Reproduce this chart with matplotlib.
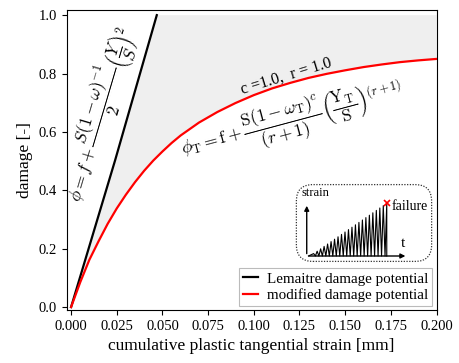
import numpy as np
import matplotlib
matplotlib.use("Agg")
import matplotlib.pyplot as plt
from matplotlib.patches import FancyBboxPatch

# ---- data ----
lem_x = [0.0, 0.0241, 0.0469]
lem_y = [0.0, 0.503, 1.0]

mod_x = [0.000, 0.005, 0.010, 0.015, 0.020, 0.025, 0.030, 0.035, 0.040, 0.045,
         0.050, 0.055, 0.060, 0.070, 0.080, 0.090, 0.100, 0.110, 0.120, 0.130,
         0.140, 0.150, 0.160, 0.170, 0.180, 0.190, 0.200]
mod_y = [0.000, 0.085, 0.162, 0.225, 0.285, 0.338, 0.385, 0.428, 0.467, 0.502,
         0.533, 0.562, 0.588, 0.632, 0.668, 0.699, 0.726, 0.749, 0.768, 0.785,
         0.799, 0.811, 0.822, 0.831, 0.839, 0.845, 0.850]

xticks = [0.000, 0.025, 0.050, 0.075, 0.100, 0.125, 0.150, 0.175, 0.200]
yticks = [0.0, 0.2, 0.4, 0.6, 0.8, 1.0]

# inset schematic: peak strain of each load cycle (relative)
inset_peaks = [0.03, 0.06, 0.09, 0.12, 0.15, 0.18, 0.21, 0.24, 0.27, 0.30,
               0.33, 0.36, 0.39, 0.42, 0.45, 0.48, 0.51, 0.54, 0.57, 0.60,
               0.63, 0.66]

plt.rcParams['font.family'] = ['Liberation Serif', 'DejaVu Serif']
plt.rcParams['mathtext.fontset'] = 'cm'

fig = plt.figure(figsize=(4.6, 3.63), dpi=100)
ax = fig.add_axes([0.145, 0.146, 0.804, 0.826])

# grey region between the two potentials
poly_x = list(lem_x) + [mod_x[-1]] + list(mod_x[::-1])
poly_y = list(lem_y) + [1.0] + list(mod_y[::-1])
ax.fill(poly_x, poly_y, color='#efefef', lw=0, zorder=1)

ax.plot(lem_x, lem_y, color='black', lw=1.6, label='Lemaitre damage potential', zorder=3)
ax.plot(mod_x, mod_y, color='red', lw=1.6, label='modified damage potential', zorder=3)

ax.set_xlim(-0.0024, 0.2)
ax.set_ylim(-0.010, 1.017)
ax.set_xticks(xticks)
ax.set_xticklabels([f'{v:.3f}' for v in xticks])
ax.set_yticks(yticks)
ax.set_yticklabels([f'{v:.1f}' for v in yticks])
ax.tick_params(direction='out', length=3.5, width=0.8, labelsize=10.5)
ax.set_xlabel('cumulative plastic tangential strain [mm]', fontsize=12.5)
ax.set_ylabel('damage [-]', fontsize=12.5)

ax.text(0.0155, 0.66,
        r'$\phi = f + \dfrac{S(1-\omega)^{-1}}{2}\left(\dfrac{Y}{S}\right)^{2}$',
        rotation=73.5, ha='center', va='center', fontsize=12.5,
        rotation_mode='anchor', transform=ax.transData)
ax.text(0.118, 0.79, 'c =1.0,  r = 1.0', rotation=17, ha='center', va='center',
        fontsize=11.5, rotation_mode='anchor')
ax.text(0.121, 0.635,
        r'$\phi_\mathrm{T} = \mathrm{f} + \dfrac{\mathrm{S}(1-\omega_\mathrm{T})^{c}}{(r+1)}\left(\dfrac{\mathrm{Y_T}}{\mathrm{S}}\right)^{(r+1)}$',
        rotation=15, ha='center', va='center', fontsize=12.5, rotation_mode='anchor')

leg = ax.legend(loc='lower right', fontsize=10.8, handlelength=1.0, handletextpad=0.6,
                fancybox=False, framealpha=1, edgecolor='#bbbbbb',
                borderaxespad=0.3, borderpad=0.25, labelspacing=0.15)
leg.get_frame().set_linewidth(0.8)

# ---- inset schematic ----
iax = fig.add_axes([295 / 460, 1 - 263 / 363, 138 / 460, 80 / 363])
iax.set_xlim(0, 1)
iax.set_ylim(0, 1)
iax.axis('off')
box = FancyBboxPatch((0.01, 0.02), 0.98, 0.96, boxstyle='round,pad=0,rounding_size=0.12',
                     transform=iax.transAxes, fill=False, ls=(0, (1, 1.2)), lw=0.9,
                     ec='#333333', mutation_aspect=138 / 80)
iax.add_patch(box)
ox, oy = 0.085, 0.0875
iax.annotate('', xy=(ox, 0.75), xytext=(ox, oy - 0.005),
             arrowprops=dict(arrowstyle='-|>', lw=1.0, color='black', mutation_scale=7))
iax.annotate('', xy=(0.82, oy), xytext=(ox - 0.005, oy),
             arrowprops=dict(arrowstyle='-|>', lw=1.0, color='black', mutation_scale=7))
n = len(inset_peaks)
x0, x1 = 0.11, 0.665
step = (x1 - x0) / n
zx, zy = [x0 - step * 0.5], [oy]
for i, p in enumerate(inset_peaks):
    zx.append(x0 + step * (i + 0.5) + step * 0.5)
    zy.append(oy + p)
    if i < n - 1:
        zx.append(x0 + step * (i + 1) + step * 0.5)
        zy.append(oy)
zx.append(zx[-1])
zy.append(oy)
iax.plot(zx, zy, color='black', lw=0.8)
iax.plot([zx[-2]], [zy[-2]], marker='x', color='red', ms=4, mew=1.2)
iax.text(0.05, 0.80, 'strain', fontsize=9, ha='left', va='bottom')
iax.text(0.70, oy + inset_peaks[-1] - 0.04, 'failure', fontsize=10, ha='left', va='center')
iax.text(0.78, 0.16, 't', fontsize=11, ha='center', va='bottom')

fig.savefig('out.png', dpi=100)
